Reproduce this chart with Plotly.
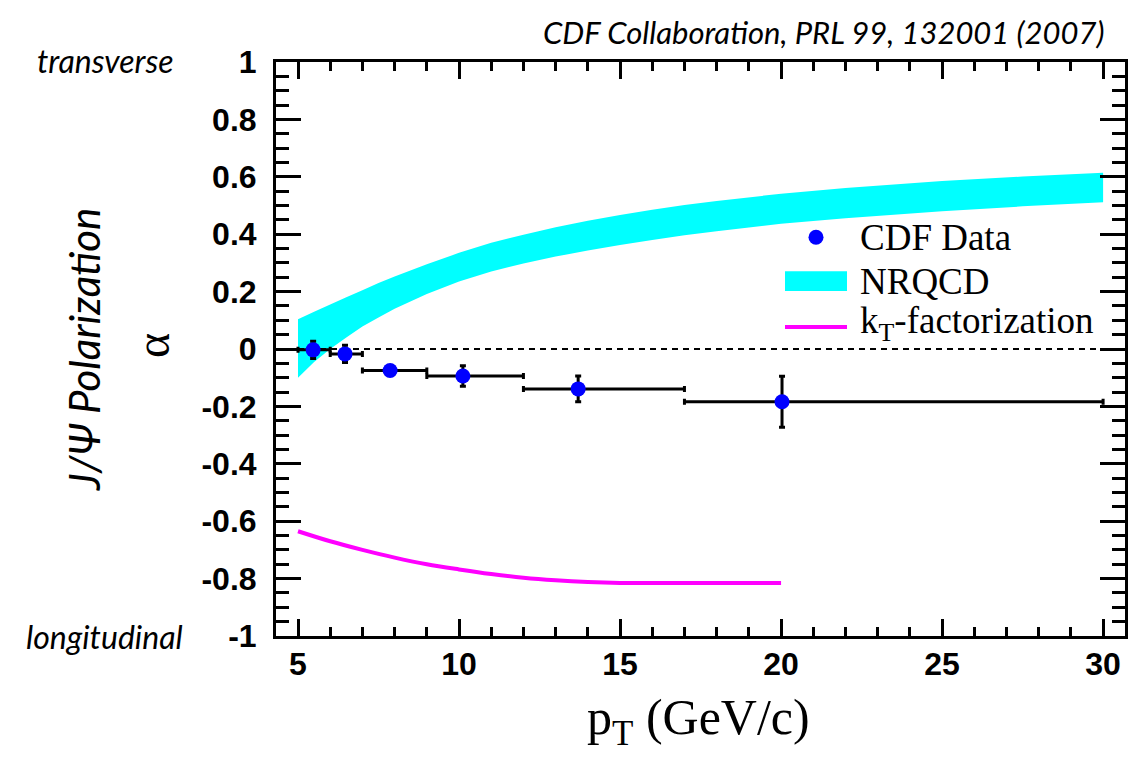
import plotly.graph_objects as go

# ---------------- data ----------------
# CDF data points
pt_center = [5.47, 6.46, 7.86, 10.12, 13.70, 20.03]
pt_bin_lo = [5.0, 6.0, 7.0, 9.0, 12.0, 17.0]
pt_bin_hi = [6.0, 7.0, 9.0, 12.0, 17.0, 30.0]
alpha_val = [-0.003, -0.017, -0.075, -0.094, -0.139, -0.184]
alpha_err = [0.030, 0.030, 0.012, 0.036, 0.045, 0.089]

# NRQCD band
nrqcd_pt = [5, 5.5, 6, 6.5, 7, 7.5, 8, 9, 10, 11, 12, 13, 14, 15, 16, 17, 18, 20, 22, 25, 27.5, 30]
nrqcd_hi = [0.104, 0.130, 0.155, 0.180, 0.205, 0.230, 0.253, 0.295, 0.335, 0.370, 0.398, 0.424,
            0.447, 0.467, 0.485, 0.502, 0.516, 0.541, 0.561, 0.585, 0.601, 0.614]
nrqcd_lo = [-0.100, -0.045, 0.000, 0.040, 0.078, 0.110, 0.140, 0.192, 0.235, 0.270, 0.298, 0.322,
            0.343, 0.362, 0.380, 0.396, 0.410, 0.436, 0.456, 0.480, 0.497, 0.511]

# kT-factorization
kt_pt = [5, 6, 7, 8, 9, 10, 11, 12, 13, 14, 15, 17, 20]
kt_alpha = [-0.635, -0.670, -0.700, -0.727, -0.750, -0.768, -0.784, -0.797, -0.806, -0.812, -0.815, -0.815, -0.815]

# reference line at alpha = 0
ref_x = [5, 30]
ref_y = [0, 0]

# ticks
x_tick_vals = [5, 10, 15, 20, 25, 30]
x_tick_text = ["5", "10", "15", "20", "25", "30"]
y_tick_vals = [1, 0.8, 0.6, 0.4, 0.2, 0, -0.2, -0.4, -0.6, -0.8, -1]
y_tick_text = ["1", "0.8", "0.6", "0.4", "0.2", "0", "-0.2", "-0.4", "-0.6", "-0.8", "-1"]

# ---------------- figure ----------------
fig = go.Figure()

fig.add_trace(go.Scatter(
    x=nrqcd_pt + nrqcd_pt[::-1],
    y=nrqcd_hi + nrqcd_lo[::-1],
    fill="toself", fillcolor="#00ffff", mode="none",
    line=dict(width=0), hoverinfo="skip", showlegend=False,
))

fig.add_trace(go.Scatter(
    x=ref_x, y=ref_y, mode="lines",
    line=dict(color="black", width=2, dash="6px,5px"),
    hoverinfo="skip", showlegend=False,
))

fig.add_trace(go.Scatter(
    x=kt_pt, y=kt_alpha, mode="lines",
    line=dict(color="#ff00ff", width=4, shape="spline"),
    showlegend=False,
))

err_plus = [h - c for h, c in zip(pt_bin_hi, pt_center)]
err_minus = [c - l for c, l in zip(pt_center, pt_bin_lo)]

fig.add_trace(go.Scatter(
    x=pt_center, y=alpha_val, mode="markers",
    marker=dict(color="#0000ff", size=15, line=dict(width=0)),
    error_x=dict(type="data", array=err_plus, arrayminus=err_minus,
                 symmetric=False, color="black", thickness=3, width=3),
    error_y=dict(type="data", array=alpha_err, color="black", thickness=3, width=3),
    showlegend=False,
))

# ---------------- layout ----------------
W, H = 1146, 758
OFF = 8                      # page offset of the plot div
SL, SR, ST, SB = 276, 1125, 61.5, 636.5   # desired screen position of the frame
L = SL - OFF
T = ST - OFF
R = W + OFF - SR
B = H + OFF - SB


def px(xs):
    return (xs - SL) / (SR - SL)


def py(ys):
    return (SB - ys) / (SB - ST)


tick_font = dict(family="Liberation Sans", size=32, color="black", weight="bold")

fig.update_layout(
    width=W, height=H,
    margin=dict(l=L, r=R, t=T, b=B, autoexpand=False),
    paper_bgcolor="white", plot_bgcolor="white",
    xaxis=dict(
        range=[4.317, 30.68], showgrid=False, zeroline=False,
        showline=True, linecolor="black", linewidth=3, mirror="allticks",
        ticks="inside", ticklen=17, tickwidth=2.5, tickcolor="black",
        tickvals=x_tick_vals, ticktext=x_tick_text, tickfont=tick_font,
        ticklabelstandoff=-2,
        minor=dict(dtick=1, tick0=0, ticks="inside", ticklen=9, tickwidth=2.5, tickcolor="black", showgrid=False),
    ),
    yaxis=dict(
        range=[-1, 1], showgrid=False, zeroline=False,
        showline=True, linecolor="black", linewidth=3, mirror="allticks",
        ticks="inside", ticklen=25, tickwidth=2.5, tickcolor="black",
        tickvals=y_tick_vals, ticktext=y_tick_text, tickfont=tick_font,
        ticklabelstandoff=10,
        minor=dict(dtick=0.05, tick0=0, ticks="inside", ticklen=13, tickwidth=2.5, tickcolor="black", showgrid=False),
    ),
)

ann = []
ann.append(dict(text="<i>CDF Collaboration, PRL 99, 132001 (2007)</i>",
                x=px(1107), y=py(31), xref="paper", yref="paper",
                xanchor="right", yanchor="middle", showarrow=False,
                font=dict(family="Lato", size=31, color="black")))
ann.append(dict(text="<i>transverse</i>", x=px(105), y=py(60), xref="paper", yref="paper",
                xanchor="center", yanchor="middle", showarrow=False,
                font=dict(family="Lato", size=32, color="black")))
ann.append(dict(text="<i>longitudinal</i>", x=px(104), y=py(637), xref="paper", yref="paper",
                xanchor="center", yanchor="middle", showarrow=False,
                font=dict(family="Lato", size=32, color="black")))
ann.append(dict(text="<i>J/Ψ Polarization</i>", x=px(84), y=py(350), xref="paper", yref="paper",
                xanchor="center", yanchor="middle", showarrow=False, textangle=-90,
                font=dict(family="Lato", size=42, color="black")))
ann.append(dict(text="α", x=px(152), y=py(346), xref="paper", yref="paper",
                xanchor="center", yanchor="middle", showarrow=False, textangle=-90,
                font=dict(family="Liberation Serif", size=48, color="black")))
ann.append(dict(text="p<sub>T</sub> (GeV/c)", x=px(585), y=py(722), xref="paper", yref="paper",
                xanchor="left", yanchor="middle", showarrow=False,
                font=dict(family="Liberation Serif", size=50, color="black")))

# legend (manual)
leg_font = dict(family="Liberation Serif", size=37, color="black")
ann.append(dict(text="CDF Data", x=px(858), y=py(237), xref="paper", yref="paper",
                xanchor="left", yanchor="middle", showarrow=False, font=leg_font))
ann.append(dict(text="NRQCD", x=px(858), y=py(281), xref="paper", yref="paper",
                xanchor="left", yanchor="middle", showarrow=False, font=leg_font))
ann.append(dict(text="k<sub>T</sub>-factorization", x=px(858), y=py(323), xref="paper", yref="paper",
                xanchor="left", yanchor="middle", showarrow=False, font=leg_font))
fig.update_layout(annotations=ann)

shapes = []
r = 7.5
shapes.append(dict(type="circle", xref="paper", yref="paper",
                   x0=px(816 - r), x1=px(816 + r), y0=py(237 + r), y1=py(237 - r),
                   fillcolor="#0000ff", line=dict(width=0)))
shapes.append(dict(type="rect", xref="paper", yref="paper",
                   x0=px(785), x1=px(847), y0=py(291), y1=py(271),
                   fillcolor="#00ffff", line=dict(width=0)))
shapes.append(dict(type="line", xref="paper", yref="paper",
                   x0=px(785), x1=px(847), y0=py(327), y1=py(327),
                   line=dict(color="#ff00ff", width=4)))
fig.update_layout(shapes=shapes)

fig.write_html("out.html")
